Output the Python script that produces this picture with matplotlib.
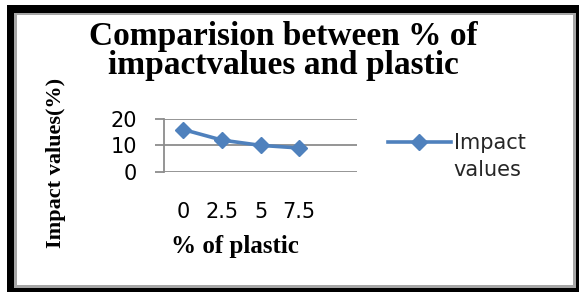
import matplotlib.pyplot as plt
from matplotlib.patches import Rectangle

# Chart data
plastic_pct = ["0", "2.5", "5", "7.5"]
impact_values = [16, 12, 10, 9]
y_ticks = [0, 10, 20]

W, H = 579, 292
BLUE = "#4F81BD"
GRID = "#8C8C8C"


def px_rect(x0, y0, x1, y1, **kw):
    # rectangle given in image pixels (origin top-left)
    return Rectangle((x0 / W, (H - y1) / H), (x1 - x0) / W, (y1 - y0) / H,
                     transform=fig.transFigure, **kw)


fig = plt.figure(figsize=(W / 100, H / 100), dpi=100)
fig.patch.set_facecolor("white")

# Frame around the chart
fig.add_artist(px_rect(7, 5, 579, 292, facecolor="black", edgecolor="none", zorder=0))
fig.add_artist(px_rect(14, 13, 576, 288, facecolor="#A6A6A6", edgecolor="none", zorder=0))
fig.add_artist(px_rect(17, 15, 573, 285, facecolor="white", edgecolor="none", zorder=0))

ax = fig.add_axes([164 / W, (H - 171.7) / H, (357 - 164) / W, (171.7 - 119) / H])
ax.set_facecolor("none")

x = list(range(len(plastic_pct)))
ax.plot(x, impact_values, color=BLUE, lw=2.6, marker="D", markersize=8,
        label="Impact", zorder=3, clip_on=False)

ax.set_xlim(-0.5, len(plastic_pct) + 0.5)
ax.set_ylim(0, 20)
ax.set_xticks(x)
ax.set_xticklabels(plastic_pct)
ax.set_yticks(y_ticks)
ax.set_yticklabels([str(v) for v in y_ticks])
ax.yaxis.grid(True, color=GRID, lw=1.3)

for side in ["top", "right", "bottom"]:
    ax.spines[side].set_visible(False)
ax.spines["left"].set_color(GRID)
ax.spines["left"].set_linewidth(1.3)

ax.tick_params(axis="y", length=6.5, width=1.3, color=GRID, pad=13,
               labelsize=15, labelcolor="black")
ax.tick_params(axis="x", length=0, pad=22, labelsize=15, labelcolor="black")

# Legend
leg = ax.legend(loc="center left", bbox_to_anchor=(388 / W, (H - 143) / H),
                bbox_transform=fig.transFigure, frameon=False, borderpad=0,
                borderaxespad=0, handlelength=3.0, handletextpad=0.15,
                fontsize=15)
for t in leg.get_texts():
    t.set_color("#262626")
fig.text(453 / W, (H - 170) / H, "values", fontsize=15, color="#262626",
         ha="left", va="center")

# Titles and axis labels
fig.text(283 / W, (H - 51) / H, "Comparision between % of\nimpactvalues and plastic",
         family="Liberation Serif", weight="bold", fontsize=24, linespacing=0.95,
         ha="center", va="center")
fig.text(56 / W, (H - 163) / H, "Impact values(%)", family="Liberation Serif",
         weight="bold", fontsize=16, rotation=90, ha="center", va="center")
fig.text(235 / W, (H - 247) / H, "% of plastic", family="Liberation Serif",
         weight="bold", fontsize=18, ha="center", va="center")

fig.savefig("out.png", dpi=100)
